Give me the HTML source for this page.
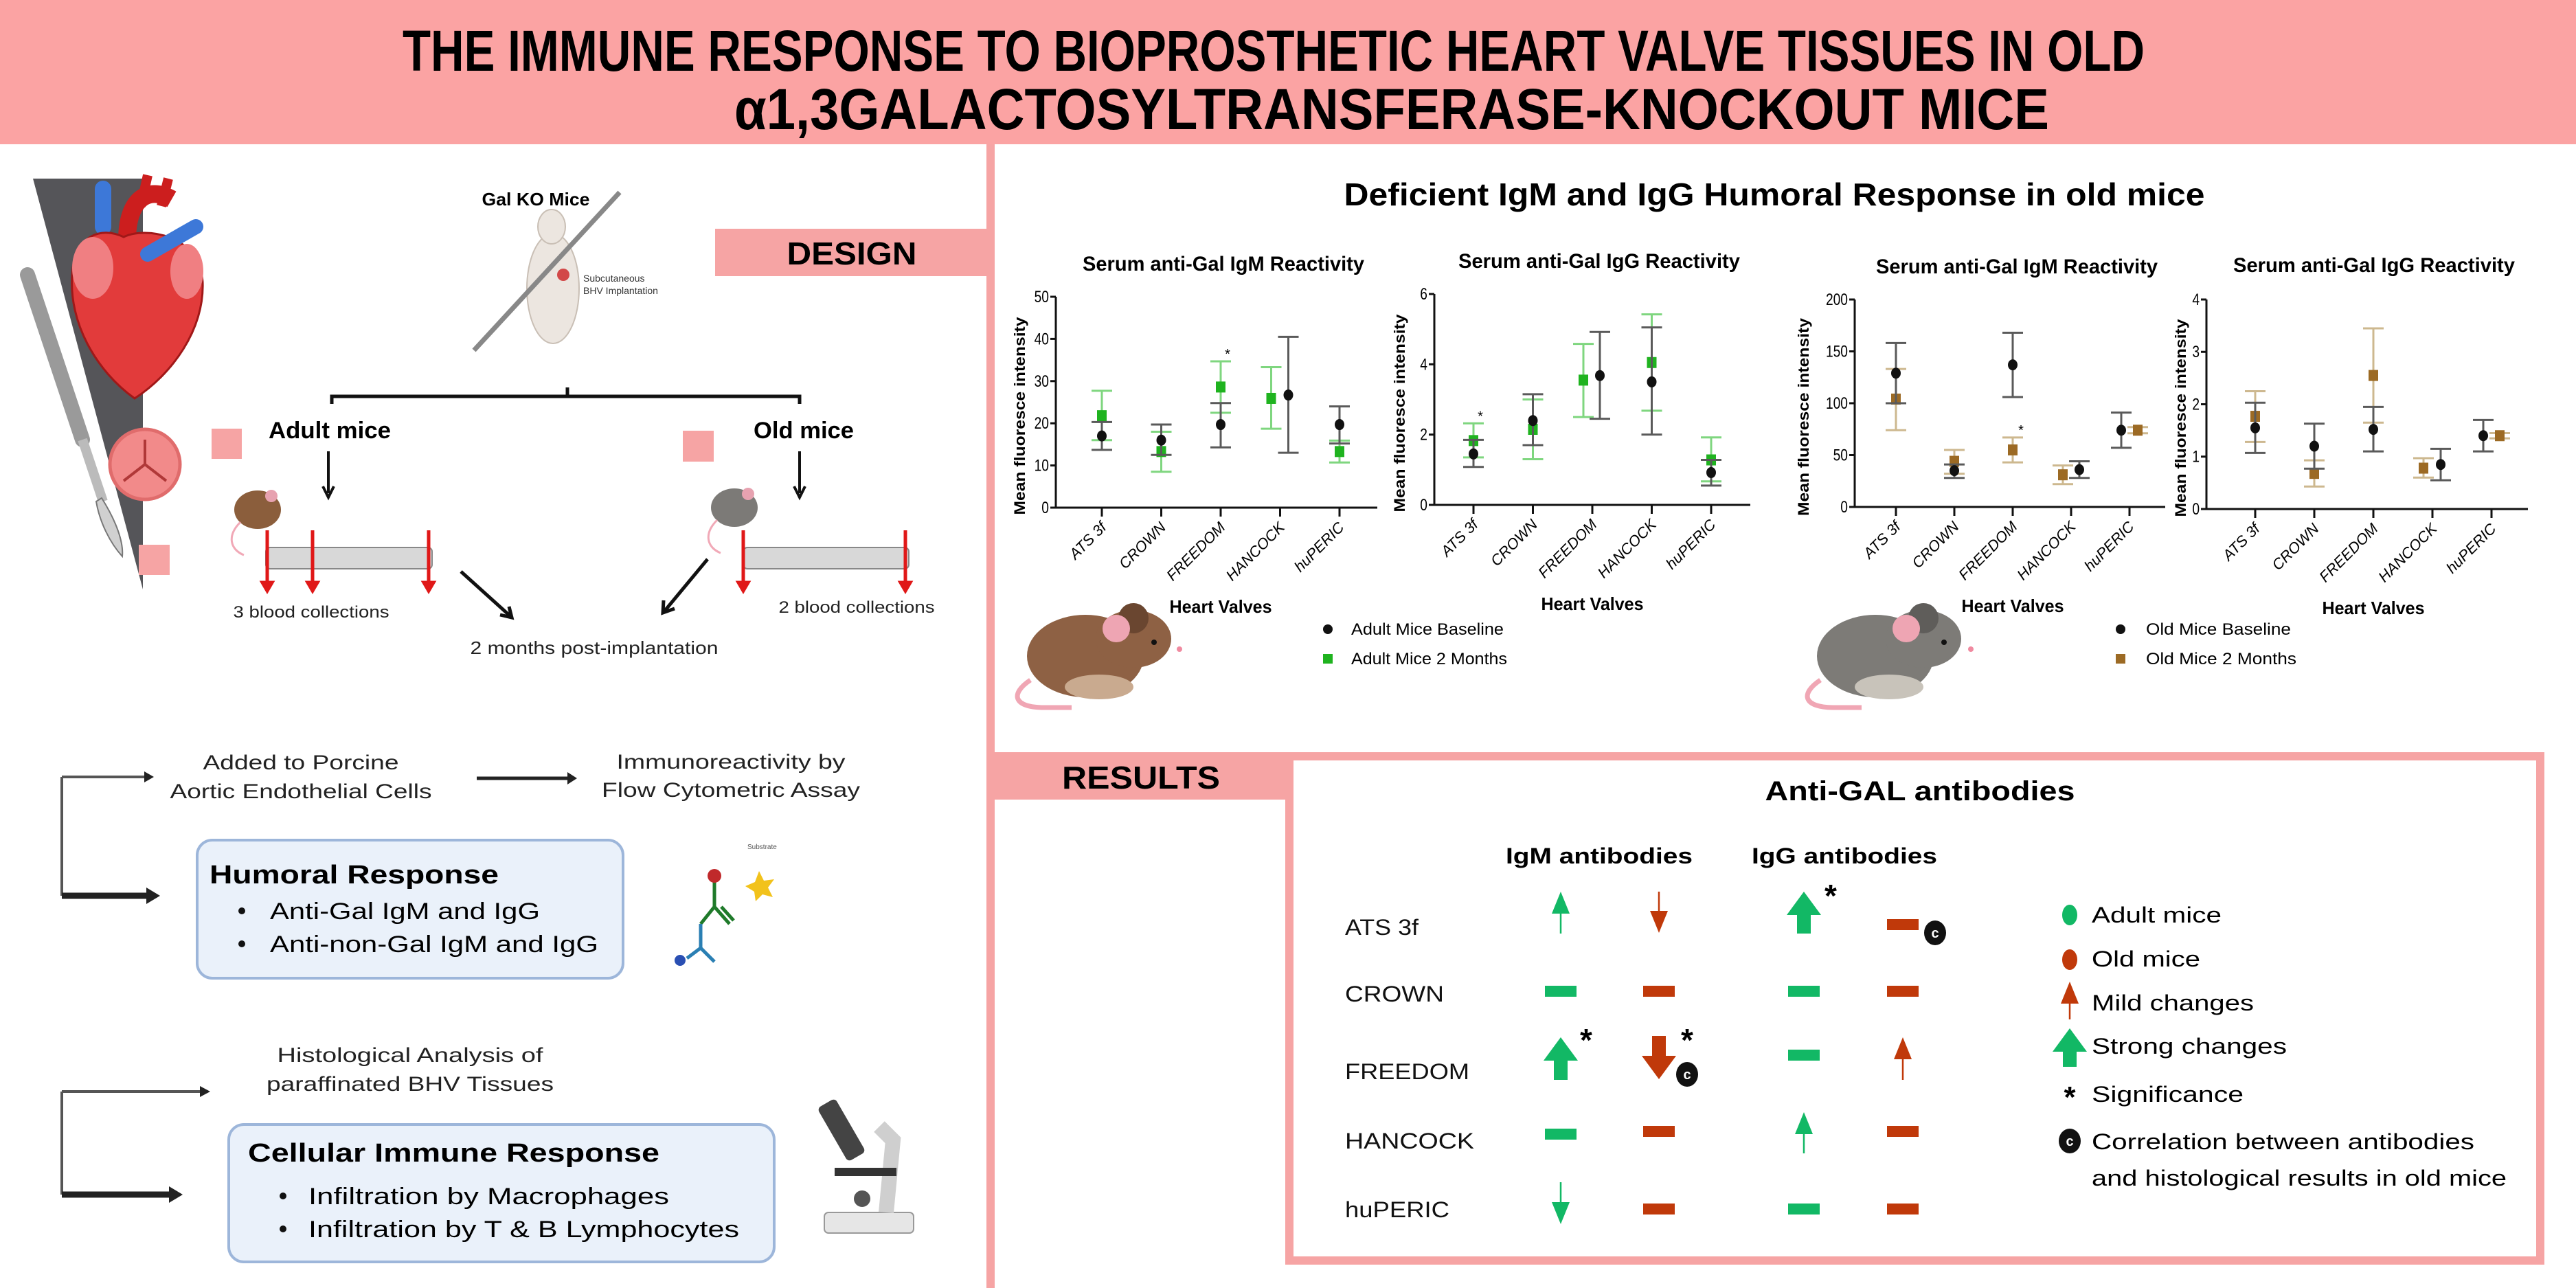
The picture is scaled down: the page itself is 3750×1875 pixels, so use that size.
<!DOCTYPE html>
<html>
<head>
<meta charset="utf-8">
<style>
html,body{margin:0;padding:0;background:#fff;}
svg{display:block;}
text{font-family:"Liberation Sans",sans-serif;}
</style>
</head>
<body>
<svg id="root" width="3750" height="1875" viewBox="0 0 3750 1875" xmlns="http://www.w3.org/2000/svg">
  <!-- Title band -->
  <rect x="0" y="0" width="3750" height="210" fill="#FBA3A3"/>
  <text x="1854" y="103" text-anchor="middle" font-size="84" font-weight="bold" textLength="2536" lengthAdjust="spacingAndGlyphs">THE IMMUNE RESPONSE TO BIOPROSTHETIC HEART VALVE TISSUES IN OLD</text>
  <text x="2026" y="188" text-anchor="middle" font-size="84" font-weight="bold" textLength="1914" lengthAdjust="spacingAndGlyphs">α1,3GALACTOSYLTRANSFERASE-KNOCKOUT MICE</text>

  <!-- Dividers -->
  <rect x="1436" y="210" width="12" height="1665" fill="#F6A4A4"/>
  <rect x="1041" y="333" width="400" height="69" fill="#F6A4A4"/>
  <text x="1240" y="385" text-anchor="middle" font-size="46" font-weight="bold" textLength="189" lengthAdjust="spacingAndGlyphs">DESIGN</text>

  <!-- Left design panel -->
  <polygon points="48,260 208,260 208,858" fill="#555559"/>
  <g>
    <line x1="40" y1="400" x2="120" y2="640" stroke="#9a9a9a" stroke-width="22" stroke-linecap="round"/>
    <line x1="120" y1="640" x2="150" y2="730" stroke="#bbbbbb" stroke-width="14"/>
    <path d="M148,725 C170,760 180,790 178,810 C160,790 145,760 140,730 Z" fill="#d0d0d0" stroke="#777" stroke-width="2"/>
  </g>
  <g>
    <path d="M150,330 L150,275" stroke="#3d78d8" stroke-width="24" stroke-linecap="round"/>
    <path d="M185,350 C185,290 215,270 250,290" stroke="#cc1e1e" stroke-width="26" fill="none"/>
    <path d="M205,300 L215,255 M235,300 L245,260" stroke="#cc1e1e" stroke-width="14"/>
    <path d="M196,580 C140,540 100,470 105,400 C108,340 150,330 180,345 C210,330 290,340 295,410 C298,480 250,545 196,580 Z" fill="#e23b3b" stroke="#a01818" stroke-width="3"/>
    <ellipse cx="135" cy="390" rx="30" ry="45" fill="#f07f82"/>
    <ellipse cx="272" cy="395" rx="24" ry="40" fill="#f07f82"/>
    <path d="M215,370 L285,330" stroke="#3d78d8" stroke-width="22" stroke-linecap="round"/>
  </g>
  <g>
    <circle cx="211" cy="676" r="51" fill="#f28a8a" stroke="#e06c6c" stroke-width="5"/>
    <path d="M211,676 L211,640 M211,676 L180,700 M211,676 L242,700" stroke="#b03838" stroke-width="4"/>
  </g>
  <rect x="202" y="793" width="45" height="44" fill="#F6A4A4"/>
  <rect x="308" y="624" width="44" height="44" fill="#F6A4A4"/>
  <rect x="994" y="627" width="45" height="45" fill="#F6A4A4"/>

  <text x="780" y="299" text-anchor="middle" font-size="26" font-weight="bold" textLength="157" lengthAdjust="spacingAndGlyphs">Gal KO Mice</text>
  <g>
    <ellipse cx="805" cy="420" rx="38" ry="80" fill="#ece6e0" stroke="#c9bfb5" stroke-width="2"/>
    <ellipse cx="803" cy="330" rx="20" ry="25" fill="#ece6e0" stroke="#c9bfb5" stroke-width="2"/>
    <circle cx="820" cy="400" r="9" fill="#d24848"/>
    <line x1="690" y1="510" x2="902" y2="280" stroke="#888" stroke-width="7"/>
  </g>
  <text x="849" y="410" font-size="14" fill="#333">Subcutaneous</text>
  <text x="849" y="428" font-size="14" fill="#333">BHV Implantation</text>

  <path d="M483,588 L483,577 L1164,577 L1164,588 M826,577 L826,564" stroke="#111" stroke-width="5" fill="none"/>
  <text x="480" y="638" text-anchor="middle" font-size="34" font-weight="bold" textLength="178" lengthAdjust="spacingAndGlyphs">Adult mice</text>
  <text x="1170" y="638" text-anchor="middle" font-size="34" font-weight="bold" textLength="146" lengthAdjust="spacingAndGlyphs">Old mice</text>
  <path d="M478,657 L478,718 M470,708 L478,724 L486,708" stroke="#111" stroke-width="4" fill="none"/>
  <path d="M1164,657 L1164,718 M1156,708 L1164,724 L1172,708" stroke="#111" stroke-width="4" fill="none"/>

  <g>
    <ellipse cx="375" cy="742" rx="34" ry="28" fill="#8b5e3c"/>
    <circle cx="395" cy="722" r="9" fill="#e7a2b0"/>
    <path d="M350,760 C330,780 335,800 355,808" stroke="#f1a9b7" stroke-width="3" fill="none"/>
  </g>
  <g>
    <ellipse cx="1069" cy="739" rx="34" ry="28" fill="#7c7a77"/>
    <circle cx="1089" cy="719" r="9" fill="#e7a2b0"/>
    <path d="M1044,757 C1024,777 1029,797 1049,805" stroke="#f1a9b7" stroke-width="3" fill="none"/>
  </g>
  <rect x="387" y="797" width="242" height="31" rx="6" fill="#d8d8d8" stroke="#888" stroke-width="2"/>
  <rect x="1082" y="797" width="241" height="31" rx="6" fill="#d8d8d8" stroke="#888" stroke-width="2"/>
  <g stroke="#e01818" stroke-width="5" fill="#e01818">
    <line x1="389" y1="772" x2="389" y2="850"/><polygon points="382,848 396,848 389,860"/>
    <line x1="455" y1="772" x2="455" y2="850"/><polygon points="448,848 462,848 455,860"/>
    <line x1="624" y1="772" x2="624" y2="850"/><polygon points="617,848 631,848 624,860"/>
    <line x1="1082" y1="772" x2="1082" y2="850"/><polygon points="1075,848 1089,848 1082,860"/>
    <line x1="1318" y1="772" x2="1318" y2="850"/><polygon points="1311,848 1325,848 1318,860"/>
  </g>
  <text x="453" y="899" text-anchor="middle" font-size="24" fill="#222" textLength="227" lengthAdjust="spacingAndGlyphs">3 blood collections</text>
  <text x="1247" y="892" text-anchor="middle" font-size="24" fill="#222" textLength="227" lengthAdjust="spacingAndGlyphs">2 blood collections</text>
  <path d="M671,832 L743,897 M728,895 L745,899 L741,883" stroke="#111" stroke-width="5" fill="none"/>
  <path d="M1030,814 L967,890 M966,874 L965,892 L982,886" stroke="#111" stroke-width="5" fill="none"/>
  <text x="865" y="952" text-anchor="middle" font-size="26" fill="#222" textLength="361" lengthAdjust="spacingAndGlyphs">2 months post-implantation</text>

  <!-- Humoral flow -->
  <text x="438" y="1120" text-anchor="middle" font-size="30" fill="#222" textLength="285" lengthAdjust="spacingAndGlyphs">Added to Porcine</text>
  <text x="438" y="1162" text-anchor="middle" font-size="30" fill="#222" textLength="381" lengthAdjust="spacingAndGlyphs">Aortic Endothelial Cells</text>
  <path d="M694,1133 L828,1133" stroke="#222" stroke-width="5"/>
  <polygon points="826,1124 840,1133 826,1142" fill="#222"/>
  <text x="1064" y="1119" text-anchor="middle" font-size="30" fill="#222" textLength="333" lengthAdjust="spacingAndGlyphs">Immunoreactivity by</text>
  <text x="1064" y="1160" text-anchor="middle" font-size="30" fill="#222" textLength="376" lengthAdjust="spacingAndGlyphs">Flow Cytometric Assay</text>
  <path d="M90,1131 L90,1304 M90,1131 L212,1131" stroke="#555" stroke-width="4" fill="none"/>
  <polygon points="210,1123 224,1131 210,1139" fill="#222"/>
  <path d="M90,1304 L215,1304" stroke="#222" stroke-width="9"/>
  <polygon points="213,1292 233,1304 213,1316" fill="#222"/>
  <rect x="287" y="1223" width="620" height="201" rx="22" fill="#EAF1FA" stroke="#9DB6DA" stroke-width="4"/>
  <text x="305" y="1286" font-size="38" font-weight="bold" textLength="421" lengthAdjust="spacingAndGlyphs">Humoral Response</text>
  <circle cx="352" cy="1326" r="5" fill="#111"/>
  <text x="393" y="1338" font-size="34" textLength="393" lengthAdjust="spacingAndGlyphs">Anti-Gal IgM and IgG</text>
  <circle cx="352" cy="1374" r="5" fill="#111"/>
  <text x="393" y="1386" font-size="34" textLength="478" lengthAdjust="spacingAndGlyphs">Anti-non-Gal IgM and IgG</text>
  <g stroke-width="5" fill="none">
    <path d="M1040,1280 L1040,1320 M1040,1320 L1020,1345 M1040,1320 L1062,1345 M1050,1320 L1068,1340" stroke="#1f7a2a"/>
    <path d="M1020,1345 L1020,1380 M1020,1380 L1000,1395 M1020,1380 L1040,1400" stroke="#2a7fb3"/>
    <circle cx="1040" cy="1275" r="10" fill="#c0292b" stroke="none"/>
    <circle cx="990" cy="1398" r="8" fill="#2a4fb3" stroke="none"/>
    <polygon points="1105,1268 1112,1282 1127,1280 1118,1292 1125,1306 1110,1302 1100,1312 1098,1298 1085,1290 1099,1284" fill="#f2c21b" stroke="none"/>
    <text x="1088" y="1236" font-size="10" fill="#555" stroke="none">Substrate</text>
  </g>

  <!-- Cellular flow -->
  <text x="597" y="1546" text-anchor="middle" font-size="30" fill="#222" textLength="387" lengthAdjust="spacingAndGlyphs">Histological Analysis of</text>
  <text x="597" y="1588" text-anchor="middle" font-size="30" fill="#222" textLength="418" lengthAdjust="spacingAndGlyphs">paraffinated BHV Tissues</text>
  <path d="M90,1589 L90,1739 M90,1589 L293,1589" stroke="#555" stroke-width="4" fill="none"/>
  <polygon points="291,1581 306,1589 291,1597" fill="#222"/>
  <path d="M90,1739 L248,1739" stroke="#222" stroke-width="9"/>
  <polygon points="246,1727 266,1739 246,1751" fill="#222"/>
  <rect x="333" y="1637" width="794" height="200" rx="22" fill="#EAF1FA" stroke="#9DB6DA" stroke-width="4"/>
  <text x="361" y="1691" font-size="38" font-weight="bold" textLength="599" lengthAdjust="spacingAndGlyphs">Cellular Immune Response</text>
  <circle cx="412" cy="1741" r="5" fill="#111"/>
  <text x="449" y="1753" font-size="34" textLength="525" lengthAdjust="spacingAndGlyphs">Infiltration by Macrophages</text>
  <circle cx="412" cy="1789" r="5" fill="#111"/>
  <text x="449" y="1801" font-size="34" textLength="627" lengthAdjust="spacingAndGlyphs">Infiltration by T &amp; B Lymphocytes</text>
  <g>
    <rect x="1200" y="1765" width="130" height="30" rx="6" fill="#e6e6e6" stroke="#999" stroke-width="2"/>
    <path d="M1290,1765 L1300,1660 L1280,1640" stroke="#cfcfcf" stroke-width="22" fill="none"/>
    <rect x="1215" y="1700" width="90" height="12" fill="#333"/>
    <rect x="1210" y="1600" width="30" height="90" rx="6" fill="#444" transform="rotate(-30 1225 1645)"/>
    <circle cx="1255" cy="1745" r="12" fill="#555"/>
  </g>

  <!-- Charts header -->
  <text x="2583" y="299" text-anchor="middle" font-size="46" font-weight="bold" textLength="1253" lengthAdjust="spacingAndGlyphs">Deficient IgM and IgG Humoral Response in old mice</text>
  <g id="charts"></g>

  <!-- chart legends -->
  <circle cx="1933" cy="916" r="7" fill="#111"/>
  <text x="1967" y="924" font-size="24" textLength="222" lengthAdjust="spacingAndGlyphs">Adult Mice Baseline</text>
  <rect x="1926" y="952" width="14" height="14" fill="#1fb31f"/>
  <text x="1967" y="967" font-size="24" textLength="227" lengthAdjust="spacingAndGlyphs">Adult Mice 2 Months</text>
  <circle cx="3087" cy="916" r="7" fill="#111"/>
  <text x="3124" y="924" font-size="24" textLength="211" lengthAdjust="spacingAndGlyphs">Old Mice Baseline</text>
  <rect x="3080" y="952" width="14" height="14" fill="#9c6a24"/>
  <text x="3124" y="967" font-size="24" textLength="219" lengthAdjust="spacingAndGlyphs">Old Mice 2 Months</text>

  <!-- big mice -->
  <g>
    <path d="M1500,990 C1470,1010 1475,1030 1520,1030 L1560,1030" stroke="#f0a6b4" stroke-width="7" fill="none"/>
    <ellipse cx="1580" cy="955" rx="85" ry="60" fill="#8e6144"/>
    <ellipse cx="1650" cy="930" rx="55" ry="42" fill="#8e6144"/>
    <circle cx="1650" cy="900" r="22" fill="#6a4630"/>
    <circle cx="1625" cy="915" r="20" fill="#eea5b3"/>
    <circle cx="1680" cy="935" r="4" fill="#111"/>
    <circle cx="1717" cy="945" r="4" fill="#f08aa0"/>
    <ellipse cx="1600" cy="1000" rx="50" ry="18" fill="#c9aa8f"/>
  </g>
  <g>
    <path d="M2650,990 C2620,1010 2625,1030 2670,1030 L2710,1030" stroke="#f0a6b4" stroke-width="7" fill="none"/>
    <ellipse cx="2730" cy="955" rx="85" ry="60" fill="#7d7b77"/>
    <ellipse cx="2800" cy="930" rx="55" ry="42" fill="#7d7b77"/>
    <circle cx="2800" cy="900" r="22" fill="#5f5d5a"/>
    <circle cx="2775" cy="915" r="20" fill="#eea5b3"/>
    <circle cx="2830" cy="935" r="4" fill="#111"/>
    <circle cx="2869" cy="945" r="4" fill="#f08aa0"/>
    <ellipse cx="2750" cy="1000" rx="50" ry="18" fill="#c8c3ba"/>
  </g>

  <!-- Results -->
  <rect x="1448" y="1095" width="423" height="69" fill="#F6A4A4"/>
  <text x="1661" y="1148" text-anchor="middle" font-size="46" font-weight="bold" textLength="230" lengthAdjust="spacingAndGlyphs">RESULTS</text>
  <rect x="1877" y="1101" width="1821" height="734" fill="#fff" stroke="#F6A4A4" stroke-width="12"/>
  <text x="2795" y="1165" text-anchor="middle" font-size="40" font-weight="bold" textLength="451" lengthAdjust="spacingAndGlyphs">Anti-GAL antibodies</text>
  <text x="2328" y="1257" text-anchor="middle" font-size="32" font-weight="bold" textLength="272" lengthAdjust="spacingAndGlyphs">IgM antibodies</text>
  <text x="2685" y="1257" text-anchor="middle" font-size="32" font-weight="bold" textLength="270" lengthAdjust="spacingAndGlyphs">IgG antibodies</text>
  <g font-size="32" fill="#111">
    <text x="1958" y="1361" textLength="107" lengthAdjust="spacingAndGlyphs">ATS 3f</text>
    <text x="1958" y="1458" textLength="144" lengthAdjust="spacingAndGlyphs">CROWN</text>
    <text x="1958" y="1571" textLength="181" lengthAdjust="spacingAndGlyphs">FREEDOM</text>
    <text x="1958" y="1672" textLength="188" lengthAdjust="spacingAndGlyphs">HANCOCK</text>
    <text x="1958" y="1772" textLength="152" lengthAdjust="spacingAndGlyphs">huPERIC</text>
  </g>
  <g id="icons"></g>
  <g>
    <ellipse cx="3013" cy="1332" rx="11" ry="15" fill="#12b865"/>
    <text x="3045" y="1343" font-size="32" textLength="189" lengthAdjust="spacingAndGlyphs">Adult mice</text>
    <ellipse cx="3013" cy="1397" rx="11" ry="15" fill="#c0390a"/>
    <text x="3045" y="1407" font-size="32" textLength="158" lengthAdjust="spacingAndGlyphs">Old mice</text>
    <text x="3045" y="1471" font-size="32" textLength="236" lengthAdjust="spacingAndGlyphs">Mild changes</text>
    <text x="3045" y="1534" font-size="32" textLength="284" lengthAdjust="spacingAndGlyphs">Strong changes</text>
    <text x="3013" y="1612" font-size="44" font-weight="bold" text-anchor="middle">*</text>
    <text x="3045" y="1604" font-size="32" textLength="221" lengthAdjust="spacingAndGlyphs">Significance</text>
    <text x="3045" y="1673" font-size="32" textLength="557" lengthAdjust="spacingAndGlyphs">Correlation between antibodies</text>
    <text x="3045" y="1726" font-size="32" textLength="604" lengthAdjust="spacingAndGlyphs">and histological results in old mice</text>
  </g>
</svg>
<script>
// ---------- chart data ----------
const categories = ["ATS 3f","CROWN","FREEDOM","HANCOCK","huPERIC"];
const adultIgmBase = [17, 16, 19.7, 26.7, 19.7];
const adultIgmBaseLo = [13.7, 12.5, 14.3, 13, 15.2];
const adultIgmBaseHi = [20.3, 19.7, 24.8, 40.5, 24];
const adultIgm2m = [21.8, 13.3, 28.6, 25.9, 13.3];
const adultIgm2mLo = [16, 8.5, 22.5, 18.7, 10.7];
const adultIgm2mHi = [27.7, 18, 34.7, 33.3, 15.9];
const adultIggBase = [1.45, 2.4, 3.68, 3.5, 0.92];
const adultIggBaseLo = [1.08, 1.7, 2.45, 2.0, 0.55];
const adultIggBaseHi = [1.85, 3.15, 4.92, 5.05, 1.28];
const adultIgg2m = [1.83, 2.15, 3.55, 4.05, 1.28];
const adultIgg2mLo = [1.35, 1.3, 2.5, 2.68, 0.67];
const adultIgg2mHi = [2.32, 3.0, 4.58, 5.42, 1.92];
const oldIgmBase = [129, 35, 137, 36, 74];
const oldIgmBaseLo = [100, 28, 106, 28, 57];
const oldIgmBaseHi = [158, 41, 168, 44, 91];
const oldIgm2m = [104, 44, 55, 31, 74];
const oldIgm2mLo = [74, 32, 43, 22, 71];
const oldIgm2mHi = [133, 55, 67, 40, 77];
const oldIggBase = [1.55, 1.2, 1.52, 0.85, 1.4];
const oldIggBaseLo = [1.07, 0.77, 1.1, 0.55, 1.1];
const oldIggBaseHi = [2.03, 1.63, 1.95, 1.15, 1.7];
const oldIgg2m = [1.77, 0.68, 2.55, 0.78, 1.4];
const oldIgg2mLo = [1.28, 0.43, 1.65, 0.6, 1.35];
const oldIgg2mHi = [2.25, 0.93, 3.45, 0.97, 1.45];
const igmAdultTicks = [0,10,20,30,40,50];
const iggAdultTicks = [0,2,4,6];
const igmOldTicks = [0,50,100,150,200];
const iggOldTicks = [0,1,2,3,4];
const sigAdultIgm = [2];
const sigAdultIgg = [0];
const sigOldIgm = [2];

const NS = "http://www.w3.org/2000/svg";
const chartsG = document.getElementById("charts");
function el(tag, attrs, parent){
  const e = document.createElementNS(NS, tag);
  for (const k in attrs) e.setAttribute(k, attrs[k]);
  (parent||chartsG).appendChild(e);
  return e;
}

function drawChart(cfg){
  const g = el("g", {});
  
  
  const yMax = cfg.ticks[cfg.ticks.length-1];
  const yS = v => cfg.y0 - (v / yMax) * (cfg.y0 - cfg.yTop);
  const xS = i => cfg.cx0 + i * cfg.step;
  // title
  const t = el("text", {x:(cfg.axL+cfg.axR)/2+10, y:cfg.titleY, "text-anchor":"middle", "font-size":30, "font-weight":"bold", textLength:410, lengthAdjust:"spacingAndGlyphs"}, g);
  t.textContent = cfg.title;
  
  
  // axes
  const ya = el("line", {x1:cfg.axL, y1:cfg.yTop, x2:cfg.axL, y2:cfg.y0+1, stroke:"#111", "stroke-width":3}, g);
  
  
  const xa = el("line", {x1:cfg.axL-1, y1:cfg.y0, x2:cfg.axR, y2:cfg.y0, stroke:"#111", "stroke-width":3}, g);
  
  
  cfg.ticks.forEach(v => {
    el("line", {x1:cfg.axL-8, y1:yS(v), x2:cfg.axL, y2:yS(v), stroke:"#111", "stroke-width":3}, g);
    const tl = el("text", {x:cfg.axL-10, y:yS(v)+8, "text-anchor":"end", "font-size":24, transform:`translate(${cfg.axL-10},0) scale(0.8,1) translate(${-(cfg.axL-10)},0)`}, g);
    tl.textContent = v;
    
    
  });
  const yt = el("text", {x:0, y:0, "text-anchor":"middle", "font-size":22, "font-weight":"bold", textLength:288, lengthAdjust:"spacingAndGlyphs", transform:`translate(${cfg.yTitleX},${(cfg.y0+cfg.yTop)/2+20}) rotate(-90)`}, g);
  yt.textContent = "Mean fluoresce intensity";
  
  
  categories.forEach((c,i) => {
    const x = xS(i);
    el("line", {x1:x, y1:cfg.y0, x2:x, y2:cfg.y0+13, stroke:"#111", "stroke-width":3}, g);
    const lab = el("text", {x:0, y:0, "text-anchor":"end", "font-size":22, "font-style":"italic", transform:`translate(${x+8},${cfg.y0+30}) rotate(-45)`}, g);
    lab.textContent = c;
    
    
  });
  const xt = el("text", {x:cfg.cx0+2*cfg.step, y:cfg.y0+153, "text-anchor":"middle", "font-size":26, "font-weight":"bold", textLength:149, lengthAdjust:"spacingAndGlyphs"}, g);
  xt.textContent = "Heart Valves";
  
  
  // series
  function series(vals, lo, hi, dodge, color, errColor, square, sname){
    vals.forEach((v,i) => {
      const x = xS(i) + dodge[i];
      const eb = el("path", {d:`M${x},${yS(lo[i])} L${x},${yS(hi[i])} M${x-15},${yS(lo[i])} L${x+15},${yS(lo[i])} M${x-15},${yS(hi[i])} L${x+15},${yS(hi[i])}`, stroke:errColor, "stroke-width":3, fill:"none"}, g);
      
      
      let m;
      if (square) m = el("rect", {x:x-7, y:yS(v)-8, width:14, height:16, fill:color}, g);
      else m = el("ellipse", {cx:x, cy:yS(v), rx:7, ry:8, fill:color}, g);
      
      
    });
  }
  series(cfg.s2, cfg.s2lo, cfg.s2hi, cfg.d2, cfg.c2, cfg.e2, true, cfg.s2name);
  series(cfg.s1, cfg.s1lo, cfg.s1hi, cfg.d1, "#111", "#5a5a5a", false, cfg.s1name);
  cfg.sig.forEach(i => {
    const s = el("text", {x:xS(i)+cfg.sigDx, y:yS(cfg.sigHi[i])-4, "text-anchor":"middle", "font-size":20}, g);
    s.textContent = "*";
    
    
  });
}

drawChart({name:"adult-igm-chart", title:"Serum anti-Gal IgM Reactivity", titleY:394, axL:1537, axR:2005, y0:739, yTop:432, ticks:igmAdultTicks, cx0:1604, step:86.5, yTitleX:1492,
  s1:adultIgmBase, s1lo:adultIgmBaseLo, s1hi:adultIgmBaseHi, d1:[0,0,0,12,0], s1name:"adult-baseline",
  s2:adultIgm2m, s2lo:adultIgm2mLo, s2hi:adultIgm2mHi, d2:[0,0,0,-13,0], s2name:"adult-2-months", c2:"#1fb31f", e2:"#7fd67f",
  sig:sigAdultIgm, sigHi:adultIgm2mHi, sigDx:10});
drawChart({name:"adult-igg-chart", title:"Serum anti-Gal IgG Reactivity", titleY:390, axL:2088, axR:2548, y0:735, yTop:428, ticks:iggAdultTicks, cx0:2145, step:86.5, yTitleX:2045,
  s1:adultIggBase, s1lo:adultIggBaseLo, s1hi:adultIggBaseHi, d1:[0,0,11,0,0], s1name:"adult-baseline",
  s2:adultIgg2m, s2lo:adultIgg2mLo, s2hi:adultIgg2mHi, d2:[0,0,-13,0,0], s2name:"adult-2-months", c2:"#1fb31f", e2:"#7fd67f",
  sig:sigAdultIgg, sigHi:adultIgg2mHi, sigDx:10});
drawChart({name:"old-igm-chart", title:"Serum anti-Gal IgM Reactivity", titleY:398, axL:2700, axR:3152, y0:738, yTop:436, ticks:igmOldTicks, cx0:2760, step:85, yTitleX:2633,
  s1:oldIgmBase, s1lo:oldIgmBaseLo, s1hi:oldIgmBaseHi, d1:[0,0,0,12,-12], s1name:"old-baseline",
  s2:oldIgm2m, s2lo:oldIgm2mLo, s2hi:oldIgm2mHi, d2:[0,0,0,-12,12], s2name:"old-2-months", c2:"#9c6a24", e2:"#cdb88f",
  sig:sigOldIgm, sigHi:oldIgm2mHi, sigDx:12});
drawChart({name:"old-igg-chart", title:"Serum anti-Gal IgG Reactivity", titleY:396, axL:3212, axR:3680, y0:741, yTop:436, ticks:iggOldTicks, cx0:3283, step:86, yTitleX:3182,
  s1:oldIggBase, s1lo:oldIggBaseLo, s1hi:oldIggBaseHi, d1:[0,0,0,12,-12], s1name:"old-baseline",
  s2:oldIgg2m, s2lo:oldIgg2mLo, s2hi:oldIgg2mHi, d2:[0,0,0,-13,12], s2name:"old-2-months", c2:"#9c6a24", e2:"#cdb88f",
  sig:[], sigHi:oldIgg2mHi, sigDx:0});

// ---------- results icons ----------
const iconsG = document.getElementById("icons");
const GREEN = "#12b865", ORANGE = "#c0390a";
function thinArrow(x, yTop, yBot, up, color){
  const g = el("g", {}, iconsG);
  
  
  if (up){
    el("polygon", {points:`${x-13},${yTop+32} ${x},${yTop} ${x+13},${yTop+32}`, fill:color}, g);
    el("line", {x1:x, y1:yTop+30, x2:x, y2:yBot, stroke:color, "stroke-width":2.5}, g);
  } else {
    el("polygon", {points:`${x-13},${yBot-32} ${x},${yBot} ${x+13},${yBot-32}`, fill:color}, g);
    el("line", {x1:x, y1:yTop, x2:x, y2:yBot-30, stroke:color, "stroke-width":2.5}, g);
  }
}
function thickArrow(x, yTop, yBot, up, color){
  const g = el("g", {}, iconsG);
  
  
  if (up){
    el("polygon", {points:`${x-25},${yTop+34} ${x},${yTop} ${x+25},${yTop+34}`, fill:color}, g);
    el("rect", {x:x-10, y:yTop+32, width:20, height:yBot-yTop-32, fill:color}, g);
  } else {
    el("polygon", {points:`${x-25},${yBot-34} ${x},${yBot} ${x+25},${yBot-34}`, fill:color}, g);
    el("rect", {x:x-10, y:yTop, width:20, height:yBot-yTop-32, fill:color}, g);
  }
}
function dash(x, y, color){
  const r = el("rect", {x:x-23, y:y-8, width:46, height:16, fill:color}, iconsG);
  
  
}
function star(x, y){
  const t = el("text", {x:x, y:y+30, "text-anchor":"middle", "font-size":46, "font-weight":"bold"}, iconsG);
  t.textContent = "*";
  
  
}
function cMark(x, y){
  const g = el("g", {}, iconsG);
  
  
  el("ellipse", {cx:x, cy:y, rx:16, ry:18, fill:"#111"}, g);
  const t = el("text", {x:x, y:y+7, "text-anchor":"middle", "font-size":20, "font-weight":"bold", fill:"#fff"}, g);
  t.textContent = "c";
}
// ATS 3f
thinArrow(2272, 1298, 1359, true, GREEN);
thinArrow(2415, 1298, 1358, false, ORANGE);
thickArrow(2626, 1298, 1359, true, GREEN);
star(2665, 1290);
dash(2770, 1346, ORANGE);
cMark(2817, 1358);
// CROWN
dash(2272, 1443, GREEN); dash(2415, 1443, ORANGE); dash(2626, 1443, GREEN); dash(2770, 1443, ORANGE);
// FREEDOM
thickArrow(2272, 1510, 1572, true, GREEN);
star(2309, 1500);
thickArrow(2415, 1508, 1571, false, ORANGE);
star(2456, 1500);
cMark(2456, 1564);
dash(2626, 1536, GREEN);
thinArrow(2770, 1510, 1572, true, ORANGE);
// HANCOCK
dash(2272, 1651, GREEN); dash(2415, 1647, ORANGE);
thinArrow(2626, 1619, 1679, true, GREEN);
dash(2770, 1647, ORANGE);
// huPERIC
thinArrow(2272, 1721, 1782, false, GREEN);
dash(2415, 1760, ORANGE); dash(2626, 1760, GREEN); dash(2770, 1760, ORANGE);
// legend icons
thinArrow(3013, 1429, 1484, true, ORANGE);
thickArrow(3013, 1497, 1553, true, GREEN);
cMark(3013, 1661);
</script>
</body>
</html>
